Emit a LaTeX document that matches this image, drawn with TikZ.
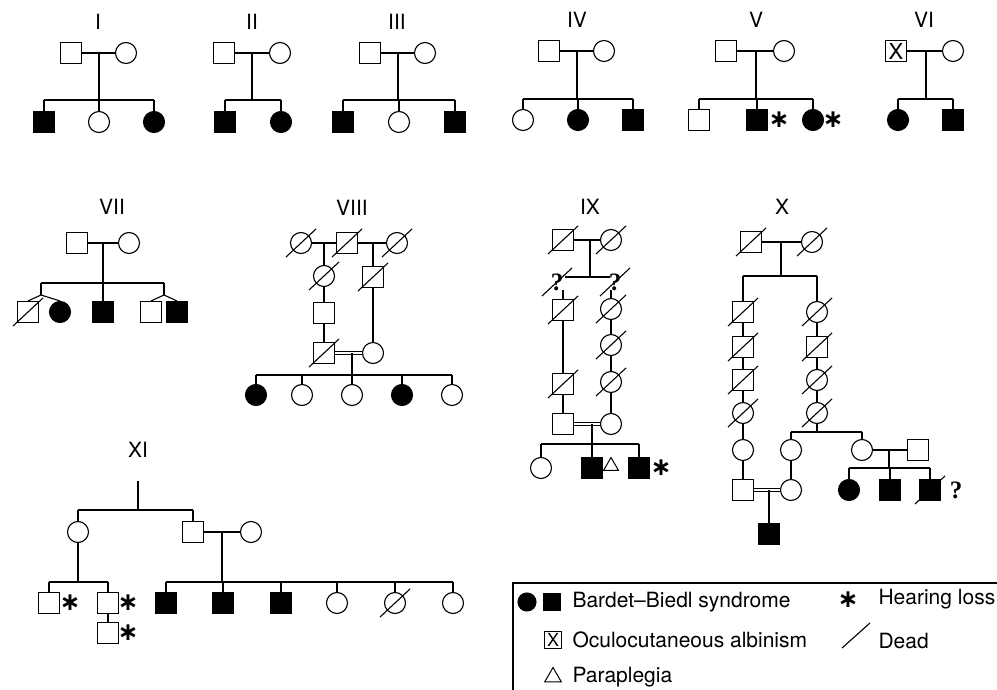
\documentclass[tikz,border=0pt]{standalone}
\usepackage{fontspec}
\setsansfont{TeX Gyre Heros}
\newfontfamily\symfont{DejaVu Sans}
\newfontfamily\qfont{Liberation Serif}
\usetikzlibrary{shapes.geometric}
\tikzset{
  male/.style     = {rectangle, draw, minimum size=21pt, inner sep=0pt},
  female/.style   = {circle, draw, minimum size=21pt, inner sep=0pt},
  ill/.style      = {fill=black},
  albino/.style   = {male, font=\sffamily\fontsize{22}{22}\selectfont},
  famlabel/.style = {font=\sffamily\fontsize{21}{21}\selectfont},
  legtext/.style  = {anchor=west, inner sep=0pt,
                     font=\sffamily\fontsize{21}{21}\selectfont},
  hearing/.style  = {inner sep=0pt, font=\symfont\bfseries\fontsize{25}{25}\selectfont},
  unknown/.style  = {inner sep=0pt, font=\qfont\bfseries\fontsize{25}{25}\selectfont},
  para/.style     = {regular polygon, regular polygon sides=3, draw,
                     minimum size=17pt, inner sep=0pt, line width=1pt},
  consang/.style  = {double, double distance=2pt}
}

\begin{document}
\begin{tikzpicture}[x=1pt, y=-1pt, line width=1.1pt]
\useasboundingbox (0,0) rectangle (997,690);

% I
\node[famlabel] (Ilab) at (98,22) {I};
\node[male] (Ifa) at (71,53) {};
\node[female] (Imo) at (126,53) {};
\node[male,ill] (Ic1) at (44,122) {};
\node[female] (Ic2) at (99,122) {};
\node[female,ill] (Ic3) at (154,122) {};
\coordinate (Id) at (99,53);
\coordinate (Is) at (99,100);
\draw (Ifa) -- (Imo) (Id) -- (Is) (Ic1 |- Is) -- (Ic3 |- Is);
\foreach \n in {Ic1,Ic2,Ic3} \draw (\n) -- (\n |- Is);

% II
\node[famlabel] (IIlab) at (252,22) {II};
\node[male] (IIfa) at (224,53) {};
\node[female] (IImo) at (280,53) {};
\node[male,ill] (IIc1) at (225,122) {};
\node[female,ill] (IIc2) at (281,122) {};
\coordinate (IId) at (252,53);
\coordinate (IIs) at (252,100);
\draw (IIfa) -- (IImo) (IId) -- (IIs) (IIc1 |- IIs) -- (IIc2 |- IIs);
\foreach \n in {IIc1,IIc2} \draw (\n) -- (\n |- IIs);

% III
\node[famlabel] (IIIlab) at (397,22) {III};
\node[male] (IIIfa) at (370,53) {};
\node[female] (IIImo) at (425,53) {};
\node[male,ill] (IIIc1) at (343,122) {};
\node[female] (IIIc2) at (399,122) {};
\node[male,ill] (IIIc3) at (455,122) {};
\coordinate (IIId) at (398,53);
\coordinate (IIIs) at (398,100);
\draw (IIIfa) -- (IIImo) (IIId) -- (IIIs) (IIIc1 |- IIIs) -- (IIIc3 |- IIIs);
\foreach \n in {IIIc1,IIIc2,IIIc3} \draw (\n) -- (\n |- IIIs);

% IV
\node[famlabel] (IVlab) at (577,20) {IV};
\node[male] (IVfa) at (549,51) {};
\node[female] (IVmo) at (604,51) {};
\node[female] (IVc1) at (523,120) {};
\node[female,ill] (IVc2) at (578,120) {};
\node[male,ill] (IVc3) at (633,120) {};
\coordinate (IVd) at (577,51);
\coordinate (IVs) at (577,99);
\draw (IVfa) -- (IVmo) (IVd) -- (IVs) (IVc1 |- IVs) -- (IVc3 |- IVs);
\foreach \n in {IVc1,IVc2,IVc3} \draw (\n) -- (\n |- IVs);

% V
\node[famlabel] (Vlab) at (756,20) {V};
\node[male] (Vfa) at (726,51) {};
\node[female] (Vmo) at (784,51) {};
\node[male] (Vc1) at (699,120) {};
\node[male,ill] (Vc2) at (757,120) {};
\node[female,ill] (Vc3) at (813,120) {};
\node[hearing] (Vh1) at (779,120) {∗};
\node[hearing] (Vh2) at (833,120) {∗};
\coordinate (Vd) at (756,51);
\coordinate (Vs) at (756,99);
\draw (Vfa) -- (Vmo) (Vd) -- (Vs) (Vc1 |- Vs) -- (Vc3 |- Vs);
\foreach \n in {Vc1,Vc2,Vc3} \draw (\n) -- (\n |- Vs);

% VI
\node[famlabel] (VIlab) at (924,20) {VI};
\node[albino] (VIfa) at (896,51) {X};
\node[female] (VImo) at (953,51) {};
\node[female,ill] (VIc1) at (898,120) {};
\node[male,ill] (VIc2) at (953,120) {};
\coordinate (VId) at (926,51);
\coordinate (VIs) at (926,99);
\draw (VIfa) -- (VImo) (VId) -- (VIs) (VIc1 |- VIs) -- (VIc2 |- VIs);
\foreach \n in {VIc1,VIc2} \draw (\n) -- (\n |- VIs);

% VII
\node[famlabel] (VIIlab) at (112,207) {VII};
\node[male] (VIIfa) at (77,243) {};
\node[female] (VIImo) at (129,243) {};
\node[male] (VIIc1) at (28,312) {};
\node[female,ill] (VIIc2) at (60,312) {};
\node[male,ill] (VIIc3) at (103,312) {};
\node[male] (VIIc4) at (151,312) {};
\node[male,ill] (VIIc5) at (177,312) {};
\coordinate (VIId) at (103,243);
\coordinate (VIIsl) at (41,283);
\coordinate (VIIsr) at (164,283);
\coordinate (VIIt1) at (41,295);
\coordinate (VIIt2) at (164,295);
\draw (VIIfa) -- (VIImo) (VIId) -- (VIIc3) (VIIsl) -- (VIIsr)
      (VIIsl) -- (VIIt1) (VIIsr) -- (VIIt2);
\draw (VIIt1) -- (VIIc1.north) (VIIt1) -- (VIIc2.north)
      (VIIt2) -- (VIIc4.north) (VIIt2) -- (VIIc5.north);

% VIII
\node[famlabel] (VIIIlab) at (352,208) {VIII};
\node[female] (VIIIg1) at (301,243) {};
\node[male] (VIIIg2) at (347,243) {};
\node[female] (VIIIg3) at (397,243) {};
\node[female] (VIIIl1) at (324,276) {};
\node[male] (VIIIl2) at (324,313) {};
\node[male] (VIIIl3) at (324,353) {};
\node[male] (VIIIr1) at (373,277) {};
\node[female] (VIIIr2) at (373,353) {};
\coordinate (VIIId1) at (324,243);
\coordinate (VIIId2) at (373,243);
\coordinate (VIIId3) at (352,353);
\coordinate (VIIIs) at (352,375);
\draw (VIIIg1) -- (VIIIg2) -- (VIIIg3);
\draw (VIIId1) -- (VIIIl1) -- (VIIIl2) -- (VIIIl3) (VIIId2) -- (VIIIr1) -- (VIIIr2);
\draw[consang] (VIIIl3) -- (VIIIr2);
\node[female,ill] (VIIIc1) at (256,395) {};
\node[female] (VIIIc2) at (302,395) {};
\node[female] (VIIIc3) at (352,395) {};
\node[female,ill] (VIIIc4) at (402,395) {};
\node[female] (VIIIc5) at (452,395) {};
\draw (VIIId3) -- (VIIIs) (VIIIc1 |- VIIIs) -- (VIIIc5 |- VIIIs);
\foreach \n in {VIIIc1,VIIIc2,VIIIc3,VIIIc4,VIIIc5} \draw (\n) -- (\n |- VIIIs);

% IX
\node[famlabel] (IXlab) at (590,207) {IX};
\node[male] (IXfa) at (563,240) {};
\node[female] (IXmo) at (611,240) {};
\node[unknown] (IXq1) at (557,282) {?};
\node[unknown] (IXq2) at (615,282) {?};
\node[male] (IXl1) at (563,310) {};
\node[male] (IXl2) at (563,384) {};
\node[male] (IXl3) at (563,424) {};
\node[female] (IXr1) at (611,309) {};
\node[female] (IXr2) at (611,345) {};
\node[female] (IXr3) at (611,382) {};
\node[female] (IXr4) at (611,424) {};
\coordinate (IXd) at (590,240);
\coordinate (IXs) at (590,277);
\coordinate (IXsl) at (565,277);
\coordinate (IXsr) at (610,277);
\coordinate (IXvl) at (563,290);
\coordinate (IXvr) at (611,290);
\draw (IXfa) -- (IXmo) (IXd) -- (IXs) (IXsl) -- (IXsr)
      (IXvl) -- (IXl1) -- (IXl2) -- (IXl3)
      (IXvr) -- (IXr1) -- (IXr2) -- (IXr3) -- (IXr4);
\draw[consang] (IXl3) -- (IXr4);
\node[female] (IXc1) at (541,468) {};
\node[male,ill] (IXc2) at (592,468) {};
\node[male,ill] (IXc3) at (639,468) {};
\node[para] (IXp) at (611,466) {};
\node[hearing] (IXh) at (661,468) {∗};
\coordinate (IXd2) at (592,424);
\coordinate (IXs2) at (592,444);
\draw (IXd2) -- (IXs2) (IXc1 |- IXs2) -- (IXc3 |- IXs2);
\foreach \n in {IXc1,IXc2,IXc3} \draw (\n) -- (\n |- IXs2);

% X
\node[famlabel] (Xlab) at (782,207) {X};
\node[male] (Xfa) at (751,242) {};
\node[female] (Xmo) at (812,242) {};
\node[male] (Xl1) at (743,312) {};
\node[male] (Xl2) at (743,347) {};
\node[male] (Xl3) at (743,380) {};
\node[female] (Xl4) at (743,413) {};
\node[female] (Xl5) at (743,450) {};
\node[male] (Xl6) at (743,490) {};
\node[female] (Xr1) at (817,312) {};
\node[male] (Xr2) at (817,347) {};
\node[female] (Xr3) at (817,380) {};
\node[female] (Xr4) at (817,413) {};
\coordinate (Xd) at (781,242);
\coordinate (Xs) at (781,276);
\coordinate (Xs2) at (817,432);
\draw (Xfa) -- (Xmo) (Xd) -- (Xs) (Xl1 |- Xs) -- (Xr1 |- Xs);
\draw (Xl1 |- Xs) -- (Xl1) -- (Xl2) -- (Xl3) -- (Xl4) -- (Xl5) -- (Xl6);
\draw (Xr1 |- Xs) -- (Xr1) -- (Xr2) -- (Xr3) -- (Xr4) -- (Xs2);
\node[female] (Xm1) at (791,450) {};
\node[female] (Xm2) at (862,450) {};
\node[male] (Xhu) at (918,450) {};
\node[female] (Xm3) at (791,490) {};
\draw (Xm1 |- Xs2) -- (Xm2 |- Xs2) (Xm1) -- (Xm1 |- Xs2) (Xm2) -- (Xm2 |- Xs2)
      (Xm1) -- (Xm3) (Xm2) -- (Xhu);
\draw[consang] (Xl6) -- (Xm3);
\node[male,ill] (Xch) at (769,534) {};
\coordinate (Xd3) at (769,490);
\draw (Xd3) -- (Xch);
\node[female,ill] (Xk1) at (849,490) {};
\node[male,ill] (Xk2) at (890,490) {};
\node[male,ill] (Xk3) at (930,490) {};
\node[unknown] (Xq) at (956,490) {?};
\coordinate (Xd4) at (889,450);
\coordinate (Xs3) at (889,468);
\draw (Xd4) -- (Xs3) (Xk1 |- Xs3) -- (Xk3 |- Xs3);
\foreach \n in {Xk1,Xk2,Xk3} \draw (\n) -- (\n |- Xs3);

% XI
\node[famlabel] (XIlab) at (138,450) {XI};
\coordinate (XItop) at (138,481);
\coordinate (XIs) at (138,510);
\node[female] (XIa) at (78,532) {};
\node[male] (XIb) at (193,532) {};
\node[female] (XIw) at (251,532) {};
\draw (XItop) -- (XIs) (XIa |- XIs) -- (XIb |- XIs) (XIa) -- (XIa |- XIs) (XIb) -- (XIb |- XIs)
      (XIb) -- (XIw);
\node[male,ill] (XIc1) at (166,603) {};
\node[male,ill] (XIc2) at (223,603) {};
\node[male,ill] (XIc3) at (281,603) {};
\node[female] (XIc4) at (337,603) {};
\node[female] (XIc5) at (395,603) {};
\node[female] (XIc6) at (453,603) {};
\coordinate (XId) at (222,532);
\coordinate (XIs2) at (222,582);
\draw (XId) -- (XIs2) (XIc1 |- XIs2) -- (XIc6 |- XIs2);
\foreach \n in {XIc1,XIc2,XIc3,XIc4,XIc5,XIc6} \draw (\n) -- (\n |- XIs2);
\node[male] (XIg1) at (49,603) {};
\node[male] (XIg2) at (108,603) {};
\node[male] (XIg3) at (108,633) {};
\node[hearing] (XIh1) at (70,603) {∗};
\node[hearing] (XIh2) at (128,603) {∗};
\node[hearing] (XIh3) at (128,633) {∗};
\coordinate (XIs3) at (78,582);
\draw (XIa) -- (XIs3) (XIg1 |- XIs3) -- (XIg2 |- XIs3) (XIg2) -- (XIg3);
\foreach \n in {XIg1,XIg2} \draw (\n) -- (\n |- XIs3);

% dead
\foreach \n in {VIIc1, VIIIg1, VIIIg2, VIIIg3, VIIIl1, VIIIl3, VIIIr1,
                IXfa, IXmo, IXq1, IXq2, IXl1, IXl2, IXr1, IXr2, IXr3,
                Xfa, Xmo, Xl1, Xl2, Xl3, Xl4, Xr1, Xr2, Xr3, Xr4, Xk3, XIc5}
  \draw (\n.center) ++(-15,14) -- ++(30,-28);

% legend
\draw (513,690) -- (513,583) -- (997,583);
\node[female,ill,minimum size=18pt] (legBBc) at (527,602) {};
\node[male,ill,minimum size=17pt] (legBBs) at (552,602) {};
\node[legtext] (legBB) at (572,602) {Bardet--Biedl syndrome};
\node[hearing] (legHs) at (848,600) {∗};
\node[legtext] (legH) at (878,599) {Hearing loss};
\node[albino,minimum size=17pt,line width=1pt,
      font=\sffamily\fontsize{18}{18}\selectfont] (legOs) at (553,640) {X};
\node[legtext] (legO) at (572,640) {Oculocutaneous albinism};
\coordinate (legDa) at (842,648);
\coordinate (legDb) at (870,623);
\draw (legDa) -- (legDb);
\node[legtext] (legD) at (878,641) {Dead};
\node[para,minimum size=19pt] (legPs) at (553,677) {};
\node[legtext] (legP) at (572,677) {Paraplegia};
\end{tikzpicture}
\end{document}
